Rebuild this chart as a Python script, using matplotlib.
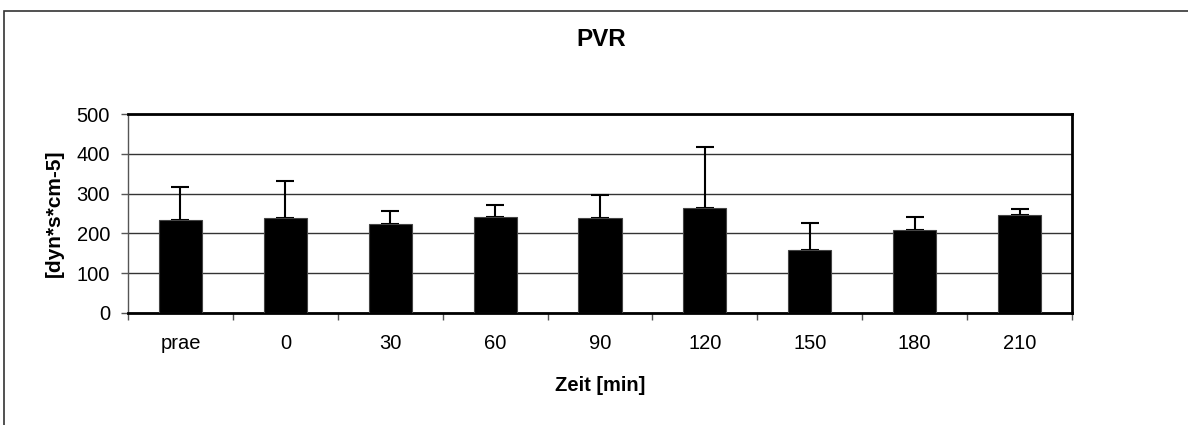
import matplotlib
matplotlib.use("Agg")
import matplotlib.pyplot as plt
from matplotlib.patches import Rectangle
import numpy as np

categories = ["prae", "0", "30", "60", "90", "120", "150", "180", "210"]
means = [233, 238, 223, 242, 238, 263, 158, 209, 247]
sd_upper = [83, 94, 34, 29, 58, 153, 68, 32, 15]
yticks = [0, 100, 200, 300, 400, 500]

plt.rcParams['font.family'] = ['Liberation Sans', 'DejaVu Sans']

W, H = 1188, 425
fig = plt.figure(figsize=(W / 100, H / 100), dpi=100)
ax = fig.add_axes([128 / W, 1 - 313 / H, (1072 - 128) / W, (313 - 114) / H])

x = np.arange(len(categories))
ax.bar(x, means, width=0.41, color='black', edgecolor='#444444', linewidth=0.8, zorder=3)
ax.errorbar(x, means, yerr=[np.zeros(len(means)), sd_upper], fmt='none',
            ecolor='black', elinewidth=1.5, capsize=6.5, capthick=1.5, zorder=2)

ax.set_xlim(-0.5, len(categories) - 0.5)
ax.set_ylim(0, 500)
ax.set_yticks(yticks)
ax.set_yticklabels([str(v) for v in yticks], fontsize=14.5)
ax.yaxis.grid(True, color='#333333', linewidth=1.0, zorder=0)
ax.set_axisbelow(True)

ax.set_xticks(np.arange(len(categories) + 1) - 0.5)
ax.set_xticklabels([])
ax.set_xticks(x, minor=True)
ax.set_xticklabels(categories, minor=True, fontsize=14.5)
ax.tick_params(axis='x', which='minor', length=0, pad=15)
ax.tick_params(axis='x', which='major', length=5, width=1, color='#555555')
ax.tick_params(axis='y', length=5, width=1, color='#555555', pad=8)

for side in ['top', 'right', 'bottom']:
    ax.spines[side].set_linewidth(2)
    ax.spines[side].set_color('black')
ax.spines['left'].set_linewidth(1)
ax.spines['left'].set_color('#555555')

ax.set_xlabel("Zeit [min]", fontsize=14.5, fontweight='bold', labelpad=17)
ax.set_ylabel("[dyn*s*cm-5]", fontsize=15, fontweight='bold', labelpad=9)

fig.text(601 / W, 1 - 40 / H, "PVR", ha='center', va='center', fontsize=17.5, fontweight='bold')

# outer chart frame (partially cropped at right and bottom)
fig.patches.append(Rectangle((4 / W, -0.1), 1.2, 1 - 11 / H + 0.1, transform=fig.transFigure,
                             fill=False, edgecolor='#333333', linewidth=1.2))

fig.savefig("out.png", dpi=100)
